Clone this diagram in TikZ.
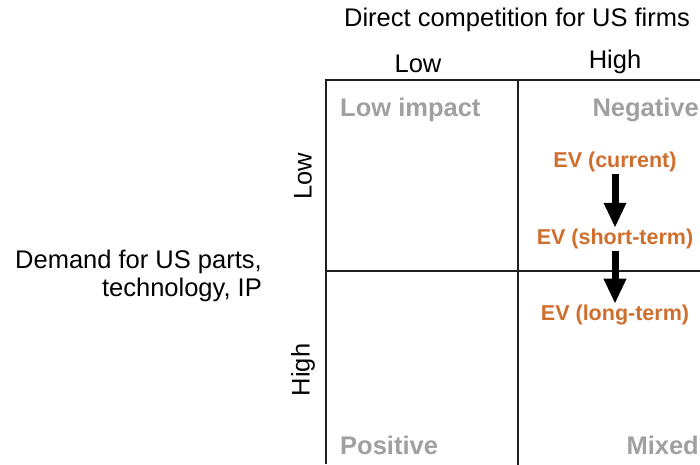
\documentclass[tikz,border=0pt]{standalone}
\usepackage{fontspec}
\setmainfont{Liberation Sans}
\usetikzlibrary{arrows.meta}
\definecolor{quadgray}{RGB}{160,160,160}
\definecolor{evorange}{RGB}{207,110,45}
\definecolor{gridline}{RGB}{30,30,30}
\tikzset{
  axislabel/.style={font=\fontsize{25.5}{30}\selectfont, text=black, inner sep=0pt},
  quadlabel/.style={font=\fontsize{25.5}{30}\selectfont\bfseries, text=quadgray, inner sep=0pt},
  evlabel/.style={font=\fontsize{21.5}{26}\selectfont\bfseries, text=evorange, inner sep=0pt},
  gridstroke/.style={draw=gridline, line width=1.8pt},
  evarrow/.style={draw=black, line width=7pt, -{Triangle[width=21pt,length=25pt]}},
}
\begin{document}
\begin{tikzpicture}[x=1pt,y=-1pt]
\useasboundingbox (0,0) rectangle (700,464);
% grid
\draw[gridstroke] (326,464) -- (326,80) -- (702,80);
\draw[gridstroke] (518,80) -- (518,466);
\draw[gridstroke] (326,271) -- (702,271);
% headers
\node[axislabel] (title) at (517,20) {Direct competition for US firms};
\node[axislabel] (colLow) at (418,64) {Low};
\node[axislabel] (colHigh) at (615,62) {High};
\node[axislabel, rotate=90] (rowLow) at (303,176) {Low};
\node[axislabel, rotate=90] (rowHigh) at (303,370) {High};
\node[axislabel, anchor=east] (demand1) at (262,262) {Demand for US parts,};
\node[axislabel, anchor=east] (demand2) at (262,290) {technology, IP};
% quadrant labels
\node[quadlabel, anchor=west] (qLow) at (340,110) {Low impact};
\node[quadlabel, anchor=east] (qNeg) at (699,110) {Negative};
\node[quadlabel, anchor=west] (qPos) at (340,445) {Positive};
\node[quadlabel, anchor=east] (qMix) at (699,445) {Mixed};
% EV labels
\node[evlabel] (evCur) at (615,162) {EV (current)};
\node[evlabel] (evShort) at (615,239) {EV (short-term)};
\node[evlabel] (evLong) at (615,315) {EV (long-term)};
% arrows
\draw[evarrow] ([yshift=-2pt]evCur.south) -- ([yshift=1pt]evShort.north);
\draw[evarrow] ([yshift=-2pt]evShort.south) -- ([yshift=1pt]evLong.north);
\end{tikzpicture}
\end{document}
